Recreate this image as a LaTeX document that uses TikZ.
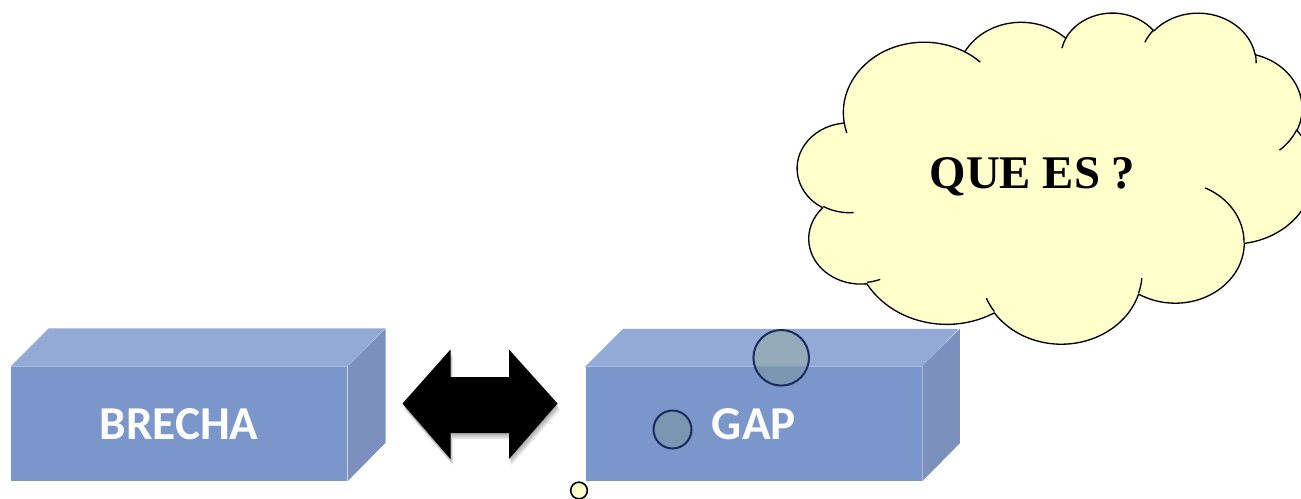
\documentclass[tikz,border=0pt]{standalone}
\usepackage{fontspec}
\newfontfamily\boxfont{Carlito}
\newfontfamily\cloudfont{Liberation Serif}
\definecolor{boxtop}{HTML}{94AAD6}
\definecolor{boxfront}{HTML}{7A96CB}
\definecolor{boxside}{HTML}{7B90BD}
\definecolor{boxedge}{HTML}{A9BCE2}
\definecolor{circtop}{HTML}{94AAB9}
\definecolor{circfront}{HTML}{7A96B0}
\definecolor{circline}{HTML}{1A2B5C}
\definecolor{cloudfill}{HTML}{FFFFCC}
\newcommand\cloudarc[4]{arc[x radius=#1, y radius=#2, start angle={atan2(#1*sin(#3),#2*cos(#3))}, delta angle={mod(atan2(#1*sin(#3+#4),#2*cos(#3+#4))-atan2(#1*sin(#3),#2*cos(#3))+720,360)}]}
\newcommand\arrowpath{(402.5,403.5) -- (450.5,349.5) -- (450.5,377) -- (509,377) -- (509,349.5) -- (557.5,403.5) -- (509,459) -- (509,433) -- (450.5,433) -- (450.5,459) -- cycle}
\tikzset{
  frontface/.style={rectangle, inner sep=0pt, fill=boxfront, minimum width=252.2pt, minimum height=85.7pt,
    text=white, font=\boxfont\bfseries\fontsize{35.4}{42}\selectfont},
  topface/.style={fill=boxtop},
  sideface/.style={fill=boxside},
  faceedge/.style={draw=boxedge, line width=0.6pt},
  tailcirc/.style={circle, inner sep=0pt, fill=#1},
  tailline/.style={draw=circline, line width=1.5pt},
  cloudline/.style={draw=black, line width=1pt, line join=round},
}
\begin{document}
\begin{tikzpicture}[x=0.75pt, y=-0.75pt]
\useasboundingbox (0,0) rectangle (1301,499);
\clip (0,0) rectangle (1301,499);
\fill[white] (0,0) rectangle (1301,499);

% BRECHA box
\node[frontface] (brecha) at (179.15,423.85) {BRECHA};
\path[topface] (brecha.north west) -- ++(38,-38) -- ++(336.3,0) -- (brecha.north east) -- cycle;
\path[sideface] (brecha.north east) -- ++(38,-38) -- ++(0,114.3) -- (brecha.south east) -- cycle;
\draw[faceedge] (brecha.north west) -- (brecha.north east);

% GAP box
\node[frontface] (gap) at (753.85,423.85) {GAP};
\path[topface] (gap.north west) -- ++(37.5,-37.5) -- ++(335.7,0) -- (gap.north east) -- cycle;
\path[sideface] (gap.north east) -- ++(37.5,-37.5) -- ++(0,114.3) -- (gap.south east) -- cycle;
\draw[faceedge] (gap.north west) -- (gap.north east);

% tail circles
\node[tailcirc=circfront, minimum size=28.9pt] (t2) at (672.5,429.5) {};
\draw[tailline] (t2.center) circle[radius=19];
\node[tailcirc=circfront, minimum size=41.7pt] (t3) at (781.2,357.8) {};
\begin{scope}
  \clip (gap.north west) -- ++(37.5,-37.5) -- ++(335.7,0) -- (gap.north east) -- cycle;
  \fill[circtop] (t3.center) circle[radius=27.8];
\end{scope}
\draw[tailline] (t3.center) circle[radius=27.8];
\node[tailcirc=cloudfill, draw=black, line width=1.2pt, minimum size=12.5pt] (t1) at (579,490.5) {};

% double arrow with soft shadow
\foreach \i in {1,...,6}{
  \fill[black, opacity=0.06, shift={(0.4*\i,1.1*\i)}] \arrowpath;
}
\fill[black] \arrowpath;

% cloud
\begin{scope}[shift={(797.5,12)}, x=8.9583pt, y=-5.7465pt]
  \path[fill=cloudfill, cloudline] (3.900,14.370)
    \cloudarc{6.753}{9.190}{-190.4875}{123.7805}
    \cloudarc{5.333}{7.267}{-144.1024}{89.9452}
    \cloudarc{4.365}{5.945}{-145.8079}{99.7230}
    \cloudarc{4.857}{6.595}{-130.9861}{117.2417}
    \cloudarc{5.333}{7.273}{-78.7089}{109.0269}
    \cloudarc{6.775}{9.220}{-46.2673}{130.2690}
    \cloudarc{5.785}{7.867}{0.6250}{114.0333}
    \cloudarc{6.752}{9.215}{22.4516}{115.1726}
    \cloudarc{7.720}{10.543}{66.2426}{75.7110}
    \cloudarc{4.360}{5.918}{-274.9421}{146.7356}
    \cloudarc{4.345}{5.945}{-246.8285}{152.5189}
    -- cycle;
  \draw[cloudline]
    (4.693,26.177) \cloudarc{4.345}{5.945}{86.742}{26.4295}
    (6.928,34.899) \cloudarc{4.360}{5.918}{73.6105}{11.4475}
    (16.478,39.090) \cloudarc{6.752}{9.215}{137.6242}{14.0811}
    (28.827,34.751) \cloudarc{6.752}{9.215}{6.4533}{15.9984}
    (34.129,22.954) \cloudarc{5.785}{7.867}{-70.2861}{70.9111}
    (41.798,15.354) \cloudarc{5.333}{7.273}{30.3180}{27.7515}
    (38.324,5.426) \cloudarc{4.857}{6.595}{-13.7443}{14.8589}
    (29.078,3.952) \cloudarc{4.857}{6.595}{-149.1815}{18.1954}
    (22.141,4.720) \cloudarc{4.365}{5.945}{-163.4943}{17.6864}
    (14.000,5.192) \cloudarc{6.753}{9.190}{-66.7070}{12.3194}
    (4.127,15.789) \cloudarc{6.753}{9.190}{157.6544}{11.8582};
\end{scope}
\node[font=\cloudfont\bfseries\fontsize{35.1}{42}\selectfont, anchor=base, inner sep=0pt] (que) at (1032.5,188.3) {QUE ES ?};
\end{tikzpicture}
\end{document}
